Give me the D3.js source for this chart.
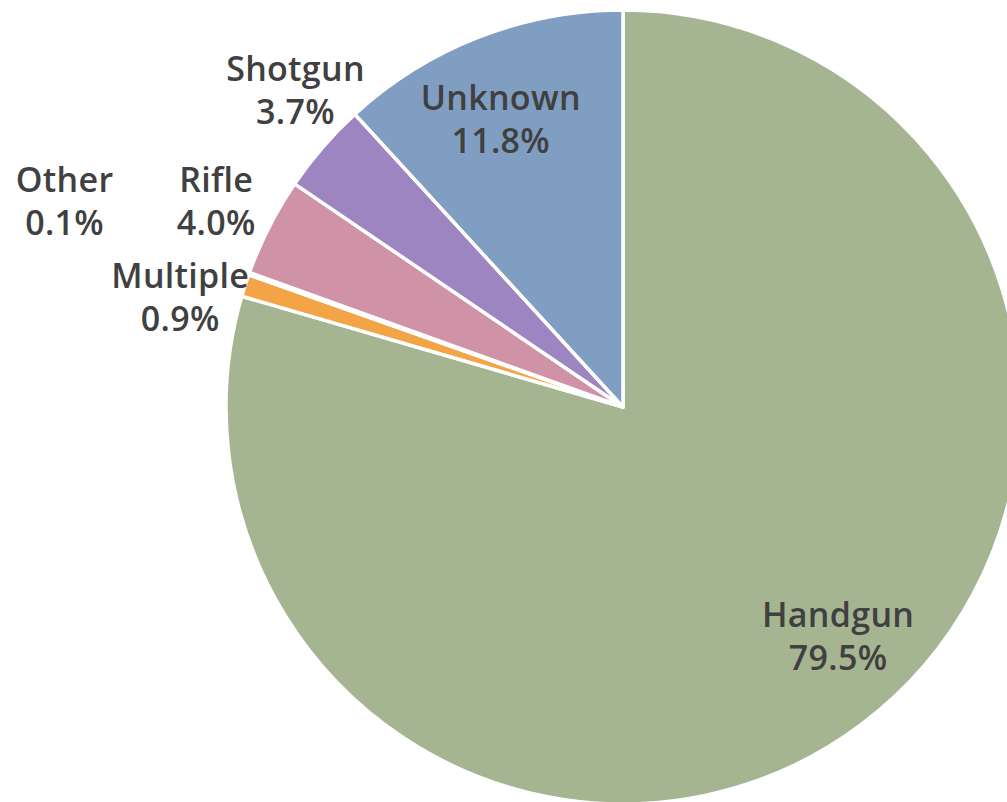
<html>
<head>
    <meta charset="utf-8">
    <title>Firearm type</title>
    <style>
        body { margin: 0; background: #fff; overflow: hidden; }
    </style>
</head>
<body>
    <script src="https://cdn.jsdelivr.net/npm/d3@7"></script>
    <script>
        var width = 1007;
        var height = 802;

        // order: clockwise from 12 o'clock
        var categories = ["Handgun", "Multiple", "Other", "Rifle", "Shotgun", "Unknown"];
        var shares = [79.5, 0.9, 0.1, 4.0, 3.7, 11.8];
        var colors = ["#A5B592", "#F3A447", "#E7BC29", "#D092A7", "#9C85C0", "#809EC2"];

        var dataset = categories.map(function (c, i) { return { name: c, value: shares[i], color: colors[i] }; });

        var svg = d3.select("body")
            .append("svg")
            .attr("width", width)
            .attr("height", height);

        var cx = 623, cy = 407;
        var radius = 397;

        var pie = d3.pie()
            .sort(null)
            .value(function (d) { return d.value; });
        var piedata = pie(dataset);

        var arc = d3.arc()
            .innerRadius(0)
            .outerRadius(radius);

        var g = svg.append("g")
            .attr("transform", "translate(" + cx + "," + cy + ")");

        g.selectAll("path")
            .data(piedata)
            .enter()
            .append("path")
            .attr("d", arc)
            .attr("fill", function (d) { return d.data.color; })
            .attr("stroke", "#fff")
            .attr("stroke-width", 3.5)
            .attr("stroke-linejoin", "round");

        // label radius: big slices inside, small ones outside, tiny one pushed further out
        function labelRadius(d) {
            if (d.data.value > 10) return radius * 0.79;
            if (d.data.value < 0.5) return radius * 1.5;
            return radius * 1.15;
        }
        // small angle nudges (degrees) so the outside labels don't collide, like Excel's best fit
        var nudge = { "Handgun": -6.4, "Unknown": -1.7, "Shotgun": 3.3, "Multiple": -3.7, "Other": 0.7 };

        var labels = g.selectAll("text")
            .data(piedata)
            .enter()
            .append("text")
            .attr("text-anchor", "middle")
            .attr("font-family", "'Open Sans', 'Noto Sans', sans-serif")
            .attr("font-weight", 600)
            .attr("font-size", 34)
            .attr("letter-spacing", 0.3)
            .attr("fill", "#404040")
            .attr("transform", function (d) {
                var r = labelRadius(d);
                var a = (d.startAngle + d.endAngle) / 2 + (nudge[d.data.name] || 0) * Math.PI / 180;
                return "translate(" + (Math.sin(a) * r) + "," + (-Math.cos(a) * r) + ")";
            });

        labels.append("tspan")
            .attr("x", 0)
            .attr("y", -8)
            .text(function (d) { return d.data.name; });
        labels.append("tspan")
            .attr("x", 0)
            .attr("y", 35)
            .text(function (d) { return d.data.value.toFixed(1) + "%"; });
    </script>
</body>
</html>
